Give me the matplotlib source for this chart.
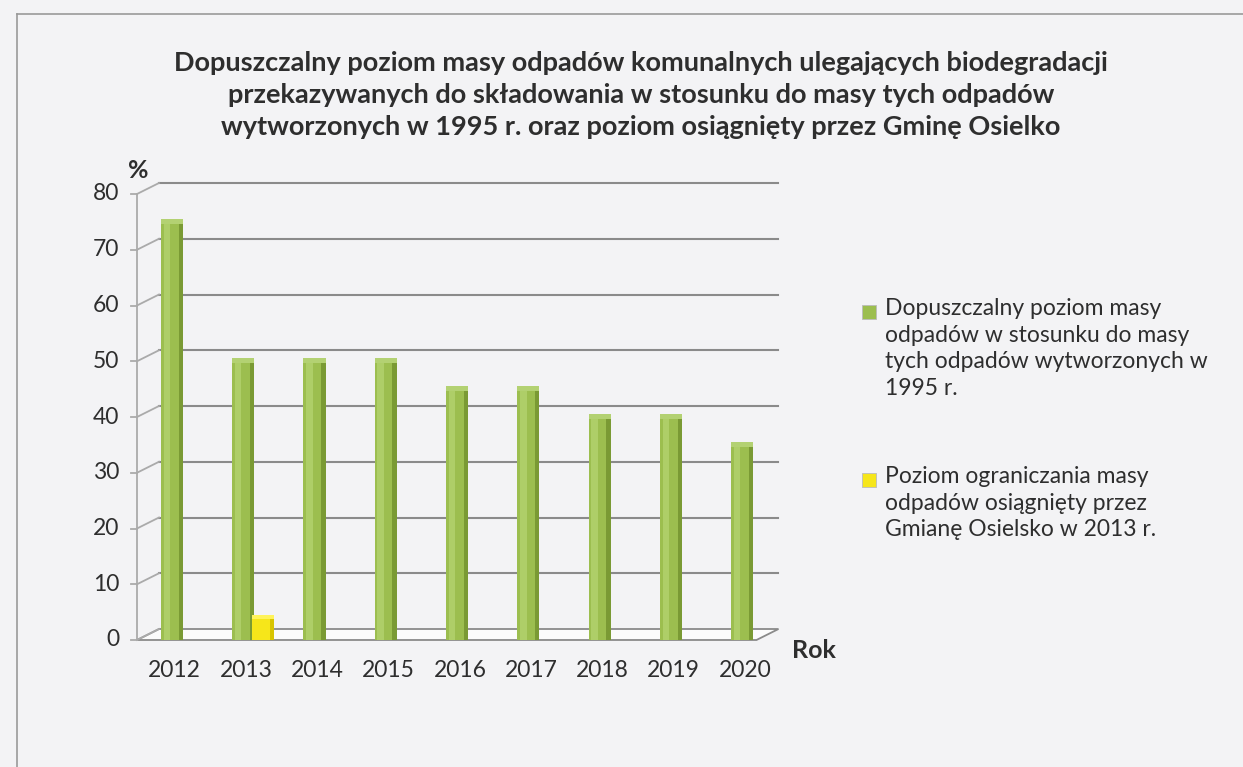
import numpy as np
import matplotlib.pyplot as plt
from matplotlib.transforms import ScaledTranslation
from matplotlib.patches import Rectangle, Polygon

plt.rcParams['font.family'] = ['Lato', 'DejaVu Sans']

# Data
years = ['2012', '2013', '2014', '2015', '2016', '2017', '2018', '2019', '2020']
allowed = [75, 50, 50, 50, 45, 45, 40, 40, 35]
achieved_year = '2013'
achieved = [4]
y_ticks = [0, 10, 20, 30, 40, 50, 60, 70, 80]

title = ('Dopuszczalny poziom masy odpadów komunalnych ulegających biodegradacji\n'
         'przekazywanych do składowania w stosunku do masy tych odpadów\n'
         'wytworzonych w 1995 r. oraz poziom osiągnięty przez Gminę Osielko')
legend_labels = ['Dopuszczalny poziom masy\nodpadów w stosunku do masy\ntych odpadów wytworzonych w\n1995 r.',
                 'Poziom ograniczania masy\nodpadów osiągnięty przez\nGmianę Osielsko w 2013 r.']

bg = '#f3f3f5'
green = '#9cbe4f'
green_dark = '#7a9a34'
green_light = '#aece68'
yellow = '#f6e61a'
yellow_dark = '#d8c400'
grid_c = '#8a8a8a'
text_c = '#2e2e2e'

fig = plt.figure(figsize=(12.43, 7.67), dpi=100, facecolor=bg)

# chart frame
fig.add_artist(plt.Line2D([17 / 1243, 17 / 1243], [0, 1 - 14 / 767], color='#999999', lw=1.2))
fig.add_artist(plt.Line2D([17 / 1243, 1], [1 - 14 / 767, 1 - 14 / 767], color='#999999', lw=1.2))

ax = fig.add_axes([137 / 1243, 1 - 640 / 767, 648 / 1243, 446 / 767])
ax.set_facecolor('none')
x = np.arange(len(years))
ax.set_xlim(-0.49, 8.6)
ax.set_ylim(0, 80)
for s in ax.spines.values():
    s.set_visible(False)
ax.set_xticks([])
ax.set_yticks([])

back = ax.transData + ScaledTranslation(22 / 100, 11 / 100, fig.dpi_scale_trans)
inv = ax.transData.inverted()
x0, x1 = -0.49, 8.2

# floor
b0 = inv.transform(back.transform((x0, 0)))
b1 = inv.transform(back.transform((x1, 0)))
ax.add_patch(Polygon([(x0, 0), (x1, 0), tuple(b1), tuple(b0)], closed=True,
                     facecolor='#fbfbfb', edgecolor=grid_c, lw=1.3, zorder=1, clip_on=False))

# back wall gridlines
for t in y_ticks[1:]:
    ax.plot([x0, x1], [t, t], color=grid_c, lw=1.5, transform=back, zorder=1, clip_on=False)

# left wall: front axis, tick marks and diagonals
ax.plot([x0, x0], [0, 80], color='#aaaaaa', lw=1.3, zorder=1, clip_on=False)
for t in y_ticks:
    bt = inv.transform(back.transform((x0, t)))
    ax.plot([x0, bt[0]], [t, bt[1]], color='#aaaaaa', lw=1.3, zorder=1, clip_on=False)
    ax.plot([x0 - 0.08, x0], [t, t], color='#aaaaaa', lw=1.3, zorder=1, clip_on=False)
    ax.text(x0 - 0.25, t, str(t), ha='right', va='center', fontsize=16.5, color=text_c)

# bars (pseudo-3D columns)
w = 0.31
for xi, v in zip(x, allowed):
    ax.add_patch(Rectangle((xi - w / 2, 0), w, v, facecolor=green, edgecolor='none', zorder=3))
    ax.add_patch(Rectangle((xi - w / 2 + w * 0.12, 0), w * 0.3, v, facecolor=green_light, edgecolor='none', zorder=3))
    ax.add_patch(Rectangle((xi + w / 2 - w * 0.2, 0), w * 0.2, v, facecolor=green_dark, edgecolor='none', zorder=3))
    ax.add_patch(Rectangle((xi - w / 2, v - 0.3), w, 0.9, facecolor='#b3d172', edgecolor='none', zorder=4))

yi = years.index(achieved_year) + 0.28
for v in achieved:
    ax.add_patch(Rectangle((yi - 0.15, 0), 0.3, v, facecolor=yellow, edgecolor='none', zorder=3))
    ax.add_patch(Rectangle((yi + 0.15 - 0.06, 0), 0.06, v, facecolor=yellow_dark, edgecolor='none', zorder=3))
    ax.add_patch(Rectangle((yi - 0.15, v - 0.3), 0.3, 0.8, facecolor='#fff35a', edgecolor='none', zorder=4))

# x labels
for xi, yr in zip(x, years):
    ax.text(xi + 0.04, -5.5, yr, ha='center', va='center', fontsize=16.5, color=text_c)

fig.text(792 / 1243, 1 - 650 / 767, 'Rok', fontsize=18, fontweight='bold', color=text_c, va='center')
fig.text(128 / 1243, 1 - 170 / 767, '%', fontsize=18, fontweight='bold', color=text_c, va='center')

fig.text(641 / 1243, 1 - 95 / 767, title, ha='center', va='center', fontsize=19.5,
         fontweight='bold', color=text_c, linespacing=1.38)

# legend
leg_y = [312, 480]
leg_colors = [green, yellow]
for yy, c, lab in zip(leg_y, leg_colors, legend_labels):
    fig.add_artist(Rectangle((862 / 1243, 1 - (yy + 7) / 767), 14 / 1243, 14 / 767,
                             facecolor=c, edgecolor='#bbbbbb', lw=0.6))
    fig.text(885 / 1243, 1 - (yy - 14) / 767, lab, ha='left', va='top', fontsize=16.5,
             color=text_c, linespacing=1.33)

fig.savefig('out.png', dpi=100, facecolor=bg)
